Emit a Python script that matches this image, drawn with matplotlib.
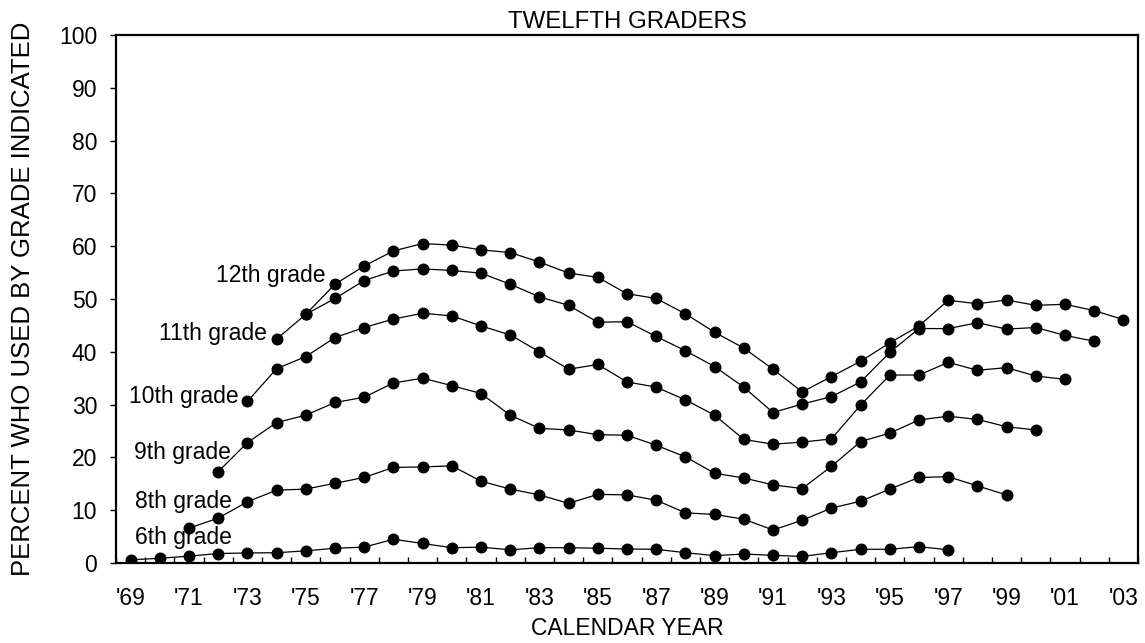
import matplotlib.pyplot as plt
from matplotlib.ticker import FixedLocator
import numpy as np

plt.rcParams['font.family'] = ['Liberation Sans', 'DejaVu Sans']
plt.rcParams['font.size'] = 16.5

# percent who had used by the grade indicated, by calendar year
start_6th = 1969
grade_6th = [0.6, 0.9, 1.3, 1.8, 1.9, 1.95, 2.3, 2.8, 3.0, 4.5,
             3.7, 2.9, 3.0, 2.5, 2.9, 2.9, 2.8, 2.65, 2.6, 1.95,
             1.4, 1.7, 1.45, 1.25, 1.95, 2.6, 2.6, 3.1, 2.5]

start_8th = 1971
grade_8th = [6.6, 8.5, 11.6, 13.8, 14.0, 15.1, 16.2, 18.1, 18.2, 18.4,
             15.5, 14.0, 12.9, 11.3, 13.0, 12.9, 11.9, 9.5, 9.2, 8.3,
             6.25, 8.1, 10.4, 11.7, 14.0, 16.2, 16.35, 14.6, 12.9]

start_9th = 1972
grade_9th = [17.3, 22.8, 26.6, 28.0, 30.4, 31.4, 34.1, 35.0, 33.6, 32.1,
             28.0, 25.5, 25.2, 24.3, 24.2, 22.3, 20.1, 17.0, 16.1, 14.8,
             14.1, 18.3, 23.0, 24.6, 27.1, 27.8, 27.2, 25.8, 25.2]

start_10th = 1973
grade_10th = [30.6, 36.8, 39.1, 42.7, 44.6, 46.2, 47.3, 46.8, 44.9, 43.2,
              40.0, 36.7, 37.6, 34.3, 33.3, 30.9, 28.0, 23.4, 22.5, 22.9,
              23.5, 29.9, 35.6, 35.6, 38.0, 36.5, 37.0, 35.4, 34.8]

start_11th = 1974
grade_11th = [42.4, 47.1, 50.1, 53.5, 55.3, 55.7, 55.4, 54.9, 52.8, 50.4,
              48.8, 45.6, 45.7, 42.9, 40.2, 37.2, 33.3, 28.5, 30.1, 31.5,
              34.3, 39.9, 44.4, 44.4, 45.5, 44.3, 44.6, 43.1, 42.0]

start_12th = 1975
grade_12th = [47.1, 52.8, 56.25, 59.1, 60.5, 60.2, 59.3, 58.8, 57.0, 54.9,
              54.1, 51.0, 50.1, 47.2, 43.7, 40.7, 36.7, 32.4, 35.3, 38.2,
              41.7, 44.9, 49.75, 49.1, 49.8, 48.8, 49.0, 47.8, 46.1]

series = [
    ('6th grade', start_6th, grade_6th, (101, 22)),
    ('8th grade', start_8th, grade_8th, (43, 27)),
    ('9th grade', start_9th, grade_9th, (13, 19)),
    ('10th grade', start_10th, grade_10th, (-9, 5)),
    ('11th grade', start_11th, grade_11th, (-10, 6)),
    ('12th grade', start_12th, grade_12th, (20, 39)),
]

fig = plt.figure(figsize=(11.45, 6.43), dpi=100)
ax = fig.add_axes([0.1013, 0.1244, 0.8926, 0.8212])

for name, start, vals, off in series:
    years = np.arange(start, start + len(vals))
    ax.plot(years, vals, color='black', lw=0.9, marker='o',
            markersize=7.6, markerfacecolor='black', markeredgecolor='black')
    ax.annotate(name, xy=(years[0], vals[0]), xytext=off,
                textcoords='offset pixels', ha='right', va='center')

ax.set_xlim(1968.5, 2003.5)
ax.set_ylim(0, 100)

odd_years = np.arange(1969, 2004, 2)
ax.xaxis.set_major_locator(FixedLocator(odd_years))
ax.set_xticklabels(["'%02d" % (y % 100) for y in odd_years])
ax.xaxis.set_minor_locator(FixedLocator(np.arange(1968.5, 2004, 1)))
ax.tick_params(axis='x', which='major', length=0, pad=17)
ax.tick_params(axis='x', which='minor', direction='in', length=4.5, width=1)

ax.set_yticks(np.arange(0, 101, 10))
ax.tick_params(axis='y', direction='out', length=4.5, width=1, pad=9)

for s in ax.spines.values():
    s.set_linewidth(1.6)

ax.set_title('TWELFTH GRADERS', pad=5, fontsize=17.3)
ax.set_xlabel('CALENDAR YEAR', labelpad=5)
ax.set_ylabel('PERCENT WHO USED BY GRADE INDICATED', labelpad=17,
              fontsize=18.5)

fig.savefig('out.png', dpi=100)
